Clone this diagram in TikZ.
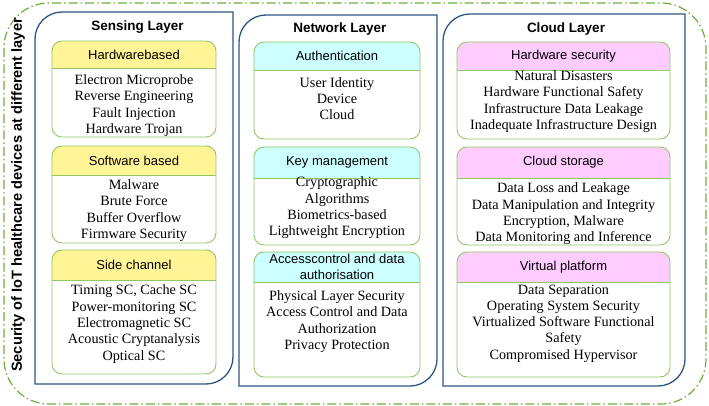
\documentclass[tikz,border=0pt]{standalone}
\usepackage{fontspec}
\setmainfont{Liberation Serif}
\setsansfont{Liberation Sans}
\definecolor{layerblue}{RGB}{45,85,130}
\definecolor{catgreen}{RGB}{146,200,100}
\definecolor{outergreen}{RGB}{110,175,60}
\definecolor{hdyellow}{RGB}{255,245,150}
\definecolor{hdcyan}{RGB}{204,255,255}
\definecolor{hdpink}{RGB}{255,204,255}
\tikzset{
  layerline/.style={draw=layerblue, line width=1.3pt},
  catline/.style={draw=catgreen, line width=0.9pt},
  headtext/.style={font=\sffamily\fontsize{13}{16}\selectfont, align=center, inner sep=0pt},
  bodytext/.style={font=\fontsize{14.2}{16.3}\selectfont, align=center, inner sep=0pt},
  titletext/.style={font=\sffamily\bfseries\fontsize{13.5}{16}\selectfont, inner sep=0pt},
  sidelabel/.style={font=\sffamily\bfseries\fontsize{14.6}{17}\selectfont, rotate=90, inner sep=0pt},
  outerframe/.style={draw=outergreen, line width=1.2pt, dash pattern=on 9pt off 3pt on 1.5pt off 3pt, rounded corners=45pt}
}
\newcommand\catbox[8]{%
  \begin{scope}
    \clip[rounded corners=10pt] (#2,#4) rectangle (#3,#6);
    \fill[#7] (#2,#4) rectangle (#3,#5);
  \end{scope}
  \draw[catline] (#2,#5) -- (#3,#5);
  \draw[catline, rounded corners=10pt] (#2,#4) rectangle (#3,#6);
  \node[headtext] (#1) at ({(#2+#3)/2},{(#4+#5)/2}) {#8};
}
\newcommand\lyrframe[4]{%
  \draw[layerline] (#1,#4) -- (#1,{#2+27}) .. controls (#1,{#2+12.1}) and ({#1+12.1},#2) .. ({#1+27},#2)
    -- (#3,#2) -- (#3,{#4-27}) .. controls (#3,{#4-12.1}) and ({#3-12.1},#4) .. ({#3-27},#4) -- cycle;
}
\begin{document}
\begin{tikzpicture}[x=1pt,y=-1pt]
\useasboundingbox (0,0) rectangle (709,406);
\fill[white] (0,0) rectangle (709,406);
% outer frame
\draw[outerframe] (4,3) rectangle (706,404);
\node[sidelabel] (side) at (18,195) {Security of IoT healthcare devices at different layer};

% layer frames
\lyrframe{35}{12}{233}{384}
\lyrframe{239}{15}{437}{386}
\lyrframe{443}{14}{685}{386}
\node[titletext] (tsense) at (137.5,27) {Sensing Layer};
\node[titletext] (tnet) at (340,29) {Network Layer};
\node[titletext] (tcloud) at (566,29) {Cloud Layer};

% Sensing layer
\catbox{hwb}{52}{216}{41}{68}{137}{hdyellow}{Hardwarebased}
\node[bodytext] (hwbb) at (134,105.5) {Electron Microprobe\\Reverse Engineering\\Fault Injection\\Hardware Trojan};
\catbox{swb}{52}{216}{146}{175}{243}{hdyellow}{Software based}
\node[bodytext] (swbb) at (134,210.5) {Malware\\Brute Force\\Buffer Overflow\\Firmware Security};
\catbox{sch}{52}{216}{250}{280}{374}{hdyellow}{Side channel}
\node[bodytext] (schb) at (134,324) {Timing SC, Cache SC\\Power-monitoring SC\\Electromagnetic SC\\Acoustic Cryptanalysis\\Optical SC};

% Network layer
\catbox{auth}{254}{420}{42}{70}{139}{hdcyan}{Authentication}
\node[bodytext] (authb) at (337,98.5) {User Identity\\Device\\Cloud};
\catbox{keym}{254}{420}{147}{178}{245}{hdcyan}{Key management}
\node[bodytext] (keymb) at (337,208) {Cryptographic\\Algorithms\\Biometrics-based\\Lightweight Encryption};
\catbox{acc}{254}{420}{252}{282}{377}{hdcyan}{Accesscontrol and data\\authorisation}
\node[bodytext] (accb) at (337,321.5) {Physical Layer Security\\Access Control and Data\\Authorization\\Privacy Protection};

% Cloud layer
\catbox{hws}{457}{670}{42}{70}{139}{hdpink}{Hardware security}
\node[bodytext] (hwsb) at (563.5,101.5) {Natural Disasters\\Hardware Functional Safety\\Infrastructure Data Leakage\\Inadequate Infrastructure Design};
\catbox{cst}{457}{670}{147}{178}{245}{hdpink}{Cloud storage}
\node[bodytext] (cstb) at (563.5,214) {Data Loss and Leakage\\Data Manipulation and Integrity\\Encryption, Malware\\Data Monitoring and Inference};
\catbox{vpl}{457}{670}{252}{282}{377}{hdpink}{Virtual platform}
\node[bodytext] (vplb) at (563.5,323.5) {Data Separation\\Operating System Security\\Virtualized Software Functional\\Safety\\Compromised Hypervisor};
\end{tikzpicture}
\end{document}
